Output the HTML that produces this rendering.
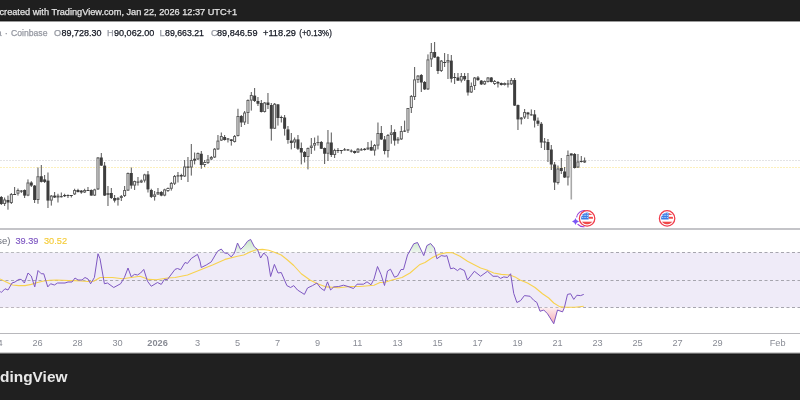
<!DOCTYPE html>
<html><head><meta charset="utf-8"><style>
html,body{margin:0;padding:0;background:#fff;width:800px;height:400px;overflow:hidden}
svg{display:block;filter:blur(0.3px)}
text{font-family:"Liberation Sans",sans-serif}
</style></head><body>
<svg width="800" height="400" viewBox="0 0 800 400">
<rect x="0" y="0" width="800" height="400" fill="#ffffff"/>
<!-- header -->
<rect x="0" y="0" width="800" height="21" fill="#1f1f1f"/>
<rect x="0" y="20" width="800" height="1" fill="#191919"/>
<rect x="0" y="21" width="800" height="1" fill="#9a9a9a"/>
<text x="-0.5" y="15" font-size="9.2" fill="#e4e4e4" stroke="#e4e4e4" stroke-width="0.25">created with TradingView.com, Jan 22, 2026 12:37 UTC+1</text>
<!-- ohlc row -->
<g font-size="9.2" stroke-width="0.25">
<text x="1.6" y="35.7" text-anchor="end" fill="#9598a1" stroke="#9598a1">Bitcoin / U.S. Dollar · 4 · Coinba</text><text x="6.3" y="35.7" text-anchor="middle" fill="#9598a1" stroke="#9598a1">·</text><text x="11" y="35.7" fill="#9598a1" stroke="#9598a1" textLength="36.5" lengthAdjust="spacingAndGlyphs">Coinbase</text>
<text x="54" y="35.7" fill="#9598a1" stroke="#9598a1">O</text><text x="61.5" y="35.7" fill="#131722" stroke="#131722" textLength="40" lengthAdjust="spacingAndGlyphs">89,728.30</text>
<text x="106.9" y="35.7" fill="#9598a1" stroke="#9598a1">H</text><text x="114" y="35.7" fill="#131722" stroke="#131722" textLength="40.3" lengthAdjust="spacingAndGlyphs">90,062.00</text>
<text x="159.4" y="35.7" fill="#9598a1" stroke="#9598a1">L</text><text x="165" y="35.7" fill="#131722" stroke="#131722" textLength="39" lengthAdjust="spacingAndGlyphs">89,663.21</text>
<text x="210.9" y="35.7" fill="#9598a1" stroke="#9598a1">C</text><text x="217" y="35.7" fill="#131722" stroke="#131722" textLength="40.5" lengthAdjust="spacingAndGlyphs">89,846.59</text>
<text x="263" y="35.7" fill="#131722" stroke="#131722" textLength="33" lengthAdjust="spacingAndGlyphs">+118.29</text><text x="299.3" y="35.7" fill="#131722" stroke="#131722" textLength="32.5" lengthAdjust="spacingAndGlyphs">(+0.13%)</text>
</g>
<!-- price lines -->
<line x1="0" y1="160.5" x2="800" y2="160.5" stroke="#e3e3e5" stroke-width="1" stroke-dasharray="2 1"/>
<line x1="0" y1="167.5" x2="800" y2="167.5" stroke="#fcf0bd" stroke-width="1" stroke-dasharray="2 1"/>
<line x1="1.3" y1="196" x2="1.3" y2="205" stroke="#555555" stroke-width="1"/>
<rect x="-0.2" y="197" width="3" height="7" fill="#3d3d3d"/>
<line x1="4.63" y1="197.5" x2="4.63" y2="206" stroke="#555555" stroke-width="1"/>
<rect x="3.63" y="200" width="2" height="3.5" fill="#ffffff" stroke="#5c5c5c" stroke-width="1"/>
<line x1="7.97" y1="195.6" x2="7.97" y2="209.7" stroke="#555555" stroke-width="1"/>
<rect x="6.47" y="200" width="3" height="2.5" fill="#3d3d3d"/>
<line x1="11.3" y1="193" x2="11.3" y2="204" stroke="#555555" stroke-width="1"/>
<rect x="10.3" y="194.5" width="2" height="8" fill="#ffffff" stroke="#5c5c5c" stroke-width="1"/>
<line x1="14.63" y1="187" x2="14.63" y2="195" stroke="#555555" stroke-width="1"/>
<rect x="13.13" y="194" width="3" height="1" fill="#3d3d3d"/>
<line x1="17.97" y1="188.5" x2="17.97" y2="195.6" stroke="#555555" stroke-width="1"/>
<rect x="16.97" y="190.5" width="2" height="2.7" fill="#ffffff" stroke="#5c5c5c" stroke-width="1"/>
<line x1="21.3" y1="190" x2="21.3" y2="193" stroke="#555555" stroke-width="1"/>
<rect x="19.8" y="190.6" width="3" height="1" fill="#3d3d3d"/>
<line x1="24.63" y1="189.4" x2="24.63" y2="198" stroke="#555555" stroke-width="1"/>
<rect x="23.13" y="190" width="3" height="5.6" fill="#3d3d3d"/>
<line x1="27.97" y1="179.4" x2="27.97" y2="196.2" stroke="#555555" stroke-width="1"/>
<rect x="26.97" y="183" width="2" height="12.1" fill="#ffffff" stroke="#5c5c5c" stroke-width="1"/>
<line x1="31.3" y1="181.2" x2="31.3" y2="187" stroke="#555555" stroke-width="1"/>
<rect x="29.8" y="182.5" width="3" height="3.1" fill="#3d3d3d"/>
<line x1="34.63" y1="185" x2="34.63" y2="203" stroke="#555555" stroke-width="1"/>
<rect x="33.13" y="185.6" width="3" height="14.4" fill="#3d3d3d"/>
<line x1="37.97" y1="167.5" x2="37.97" y2="203.75" stroke="#555555" stroke-width="1"/>
<rect x="36.97" y="176.75" width="2" height="22.75" fill="#ffffff" stroke="#5c5c5c" stroke-width="1"/>
<line x1="41.3" y1="165" x2="41.3" y2="182.5" stroke="#555555" stroke-width="1"/>
<rect x="39.8" y="176.25" width="3" height="5.65" fill="#3d3d3d"/>
<line x1="44.63" y1="175" x2="44.63" y2="183" stroke="#555555" stroke-width="1"/>
<rect x="43.13" y="179.4" width="3" height="2.5" fill="#3d3d3d"/>
<line x1="47.97" y1="172.5" x2="47.97" y2="208" stroke="#555555" stroke-width="1"/>
<rect x="46.47" y="180.6" width="3" height="20" fill="#3d3d3d"/>
<line x1="51.3" y1="195" x2="51.3" y2="205.6" stroke="#555555" stroke-width="1"/>
<rect x="50.3" y="196.1" width="2" height="4" fill="#ffffff" stroke="#5c5c5c" stroke-width="1"/>
<line x1="54.63" y1="192" x2="54.63" y2="198" stroke="#555555" stroke-width="1"/>
<rect x="53.13" y="195.6" width="3" height="1.9" fill="#3d3d3d"/>
<line x1="57.97" y1="193.75" x2="57.97" y2="202.5" stroke="#555555" stroke-width="1"/>
<rect x="56.97" y="196.1" width="2" height="0.9" fill="#ffffff" stroke="#5c5c5c" stroke-width="1"/>
<line x1="61.3" y1="192.5" x2="61.3" y2="197.5" stroke="#555555" stroke-width="1"/>
<rect x="59.8" y="196.2" width="3" height="1" fill="#3d3d3d"/>
<line x1="64.63" y1="193.75" x2="64.63" y2="197" stroke="#555555" stroke-width="1"/>
<rect x="63.13" y="195" width="3" height="1.25" fill="#3d3d3d"/>
<line x1="67.97" y1="194.4" x2="67.97" y2="198" stroke="#555555" stroke-width="1"/>
<rect x="66.47" y="195" width="3" height="1" fill="#3d3d3d"/>
<line x1="71.3" y1="195" x2="71.3" y2="197.5" stroke="#555555" stroke-width="1"/>
<rect x="69.8" y="195" width="3" height="1" fill="#3d3d3d"/>
<line x1="74.63" y1="188.75" x2="74.63" y2="195" stroke="#555555" stroke-width="1"/>
<rect x="73.63" y="190.5" width="2" height="3.4" fill="#ffffff" stroke="#5c5c5c" stroke-width="1"/>
<line x1="77.97" y1="188.75" x2="77.97" y2="192.5" stroke="#555555" stroke-width="1"/>
<rect x="76.47" y="190" width="3" height="2" fill="#3d3d3d"/>
<line x1="81.3" y1="190" x2="81.3" y2="193.75" stroke="#555555" stroke-width="1"/>
<rect x="79.8" y="190.6" width="3" height="1.9" fill="#3d3d3d"/>
<line x1="84.63" y1="188.75" x2="84.63" y2="193" stroke="#555555" stroke-width="1"/>
<rect x="83.63" y="190.5" width="2" height="1.5" fill="#ffffff" stroke="#5c5c5c" stroke-width="1"/>
<line x1="87.97" y1="187" x2="87.97" y2="191" stroke="#555555" stroke-width="1"/>
<rect x="86.47" y="190" width="3" height="1" fill="#3d3d3d"/>
<line x1="91.3" y1="189.4" x2="91.3" y2="195.6" stroke="#555555" stroke-width="1"/>
<rect x="89.8" y="190" width="3" height="5.6" fill="#3d3d3d"/>
<line x1="94.63" y1="188.75" x2="94.63" y2="196" stroke="#555555" stroke-width="1"/>
<rect x="93.63" y="189.9" width="2" height="5.2" fill="#ffffff" stroke="#5c5c5c" stroke-width="1"/>
<line x1="97.97" y1="157" x2="97.97" y2="190" stroke="#555555" stroke-width="1"/>
<rect x="96.97" y="158" width="2" height="30.9" fill="#ffffff" stroke="#5c5c5c" stroke-width="1"/>
<line x1="101.3" y1="153" x2="101.3" y2="166" stroke="#555555" stroke-width="1"/>
<rect x="99.8" y="157.5" width="3" height="8.1" fill="#3d3d3d"/>
<line x1="104.63" y1="162" x2="104.63" y2="196" stroke="#555555" stroke-width="1"/>
<rect x="103.13" y="165.6" width="3" height="30" fill="#3d3d3d"/>
<line x1="107.97" y1="186" x2="107.97" y2="206" stroke="#555555" stroke-width="1"/>
<rect x="106.97" y="193.5" width="2" height="1" fill="#ffffff" stroke="#5c5c5c" stroke-width="1"/>
<line x1="111.3" y1="188" x2="111.3" y2="199" stroke="#555555" stroke-width="1"/>
<rect x="109.8" y="193" width="3" height="5" fill="#3d3d3d"/>
<line x1="114.63" y1="195" x2="114.63" y2="202.5" stroke="#555555" stroke-width="1"/>
<rect x="113.13" y="198" width="3" height="2.6" fill="#3d3d3d"/>
<line x1="117.97" y1="197" x2="117.97" y2="205.6" stroke="#555555" stroke-width="1"/>
<rect x="116.97" y="198.5" width="2" height="1" fill="#ffffff" stroke="#5c5c5c" stroke-width="1"/>
<line x1="121.3" y1="195" x2="121.3" y2="201" stroke="#555555" stroke-width="1"/>
<rect x="120.3" y="196.5" width="2" height="1" fill="#ffffff" stroke="#5c5c5c" stroke-width="1"/>
<line x1="124.63" y1="186" x2="124.63" y2="197" stroke="#555555" stroke-width="1"/>
<rect x="123.63" y="190.5" width="2" height="5" fill="#ffffff" stroke="#5c5c5c" stroke-width="1"/>
<line x1="127.97" y1="172.5" x2="127.97" y2="191" stroke="#555555" stroke-width="1"/>
<rect x="126.97" y="173.5" width="2" height="16.6" fill="#ffffff" stroke="#5c5c5c" stroke-width="1"/>
<line x1="131.3" y1="167.5" x2="131.3" y2="188.75" stroke="#555555" stroke-width="1"/>
<rect x="129.8" y="173" width="3" height="12.6" fill="#3d3d3d"/>
<line x1="134.63" y1="180.6" x2="134.63" y2="190" stroke="#555555" stroke-width="1"/>
<rect x="133.63" y="181.5" width="2" height="3.6" fill="#ffffff" stroke="#5c5c5c" stroke-width="1"/>
<line x1="137.97" y1="177" x2="137.97" y2="185.6" stroke="#555555" stroke-width="1"/>
<rect x="136.47" y="181.6" width="3" height="1" fill="#3d3d3d"/>
<line x1="141.3" y1="179.5" x2="141.3" y2="183" stroke="#555555" stroke-width="1"/>
<rect x="140.3" y="180.9" width="2" height="1.1" fill="#ffffff" stroke="#5c5c5c" stroke-width="1"/>
<line x1="144.63" y1="173.75" x2="144.63" y2="182.5" stroke="#555555" stroke-width="1"/>
<rect x="143.63" y="174.9" width="2" height="5.2" fill="#ffffff" stroke="#5c5c5c" stroke-width="1"/>
<line x1="147.97" y1="171" x2="147.97" y2="192.5" stroke="#555555" stroke-width="1"/>
<rect x="146.47" y="174.4" width="3" height="15" fill="#3d3d3d"/>
<line x1="151.3" y1="188.75" x2="151.3" y2="198" stroke="#555555" stroke-width="1"/>
<rect x="149.8" y="190" width="3" height="6.9" fill="#3d3d3d"/>
<line x1="154.63" y1="191" x2="154.63" y2="200.6" stroke="#555555" stroke-width="1"/>
<rect x="153.63" y="194.9" width="2" height="1.5" fill="#ffffff" stroke="#5c5c5c" stroke-width="1"/>
<line x1="157.97" y1="188" x2="157.97" y2="195" stroke="#555555" stroke-width="1"/>
<rect x="156.97" y="192.5" width="2" height="1.4" fill="#ffffff" stroke="#5c5c5c" stroke-width="1"/>
<line x1="161.3" y1="191" x2="161.3" y2="196.25" stroke="#555555" stroke-width="1"/>
<rect x="159.8" y="192" width="3" height="3.6" fill="#3d3d3d"/>
<line x1="164.63" y1="188.75" x2="164.63" y2="196.25" stroke="#555555" stroke-width="1"/>
<rect x="163.63" y="189.9" width="2" height="5.2" fill="#ffffff" stroke="#5c5c5c" stroke-width="1"/>
<line x1="167.97" y1="187.5" x2="167.97" y2="192" stroke="#555555" stroke-width="1"/>
<rect x="166.97" y="188.5" width="2" height="2" fill="#ffffff" stroke="#5c5c5c" stroke-width="1"/>
<line x1="171.3" y1="182" x2="171.3" y2="190.6" stroke="#555555" stroke-width="1"/>
<rect x="170.3" y="183.5" width="2" height="4.75" fill="#ffffff" stroke="#5c5c5c" stroke-width="1"/>
<line x1="174.63" y1="175" x2="174.63" y2="185" stroke="#555555" stroke-width="1"/>
<rect x="173.63" y="176.5" width="2" height="6.75" fill="#ffffff" stroke="#5c5c5c" stroke-width="1"/>
<line x1="177.96" y1="172" x2="177.96" y2="182.5" stroke="#555555" stroke-width="1"/>
<rect x="176.46" y="175.4" width="3" height="1" fill="#3d3d3d"/>
<line x1="181.3" y1="173.75" x2="181.3" y2="180" stroke="#555555" stroke-width="1"/>
<rect x="179.8" y="175" width="3" height="1.5" fill="#3d3d3d"/>
<line x1="184.63" y1="160" x2="184.63" y2="177" stroke="#555555" stroke-width="1"/>
<rect x="183.63" y="167" width="2" height="9" fill="#ffffff" stroke="#5c5c5c" stroke-width="1"/>
<line x1="187.96" y1="157" x2="187.96" y2="182" stroke="#555555" stroke-width="1"/>
<rect x="186.46" y="166.5" width="3" height="1.25" fill="#3d3d3d"/>
<line x1="191.3" y1="144" x2="191.3" y2="175.6" stroke="#555555" stroke-width="1"/>
<rect x="190.3" y="160.5" width="2" height="6.5" fill="#ffffff" stroke="#5c5c5c" stroke-width="1"/>
<line x1="194.63" y1="152.5" x2="194.63" y2="164.4" stroke="#555555" stroke-width="1"/>
<rect x="193.13" y="158.75" width="3" height="1.85" fill="#3d3d3d"/>
<line x1="197.96" y1="152.5" x2="197.96" y2="160" stroke="#555555" stroke-width="1"/>
<rect x="196.96" y="153.5" width="2" height="5.4" fill="#ffffff" stroke="#5c5c5c" stroke-width="1"/>
<line x1="201.3" y1="151" x2="201.3" y2="168.75" stroke="#555555" stroke-width="1"/>
<rect x="199.8" y="153.75" width="3" height="11.25" fill="#3d3d3d"/>
<line x1="204.63" y1="160" x2="204.63" y2="167" stroke="#555555" stroke-width="1"/>
<rect x="203.63" y="162.5" width="2" height="2" fill="#ffffff" stroke="#5c5c5c" stroke-width="1"/>
<line x1="207.96" y1="155" x2="207.96" y2="164" stroke="#555555" stroke-width="1"/>
<rect x="206.96" y="159.9" width="2" height="2.6" fill="#ffffff" stroke="#5c5c5c" stroke-width="1"/>
<line x1="211.3" y1="156" x2="211.3" y2="160" stroke="#555555" stroke-width="1"/>
<rect x="210.3" y="157.5" width="2" height="1.4" fill="#ffffff" stroke="#5c5c5c" stroke-width="1"/>
<line x1="214.63" y1="148" x2="214.63" y2="158" stroke="#555555" stroke-width="1"/>
<rect x="213.63" y="149.25" width="2" height="7.75" fill="#ffffff" stroke="#5c5c5c" stroke-width="1"/>
<line x1="217.96" y1="135" x2="217.96" y2="150" stroke="#555555" stroke-width="1"/>
<rect x="216.96" y="141.1" width="2" height="7.8" fill="#ffffff" stroke="#5c5c5c" stroke-width="1"/>
<line x1="221.3" y1="132.5" x2="221.3" y2="141" stroke="#555555" stroke-width="1"/>
<rect x="220.3" y="136.5" width="2" height="3.6" fill="#ffffff" stroke="#5c5c5c" stroke-width="1"/>
<line x1="224.63" y1="135" x2="224.63" y2="140.6" stroke="#555555" stroke-width="1"/>
<rect x="223.13" y="137" width="3" height="3" fill="#3d3d3d"/>
<line x1="227.96" y1="138" x2="227.96" y2="142.5" stroke="#555555" stroke-width="1"/>
<rect x="226.46" y="138.5" width="3" height="1" fill="#3d3d3d"/>
<line x1="231.3" y1="139" x2="231.3" y2="145.6" stroke="#555555" stroke-width="1"/>
<rect x="229.8" y="139.4" width="3" height="1.6" fill="#3d3d3d"/>
<line x1="234.63" y1="135" x2="234.63" y2="142.5" stroke="#555555" stroke-width="1"/>
<rect x="233.63" y="136.5" width="2" height="5" fill="#ffffff" stroke="#5c5c5c" stroke-width="1"/>
<line x1="237.96" y1="108.75" x2="237.96" y2="136.5" stroke="#555555" stroke-width="1"/>
<rect x="236.96" y="116.5" width="2" height="19" fill="#ffffff" stroke="#5c5c5c" stroke-width="1"/>
<line x1="241.3" y1="115" x2="241.3" y2="127" stroke="#555555" stroke-width="1"/>
<rect x="239.8" y="116" width="3" height="6.5" fill="#3d3d3d"/>
<line x1="244.63" y1="111" x2="244.63" y2="125" stroke="#555555" stroke-width="1"/>
<rect x="243.63" y="113" width="2" height="9" fill="#ffffff" stroke="#5c5c5c" stroke-width="1"/>
<line x1="247.96" y1="99.4" x2="247.96" y2="124" stroke="#555555" stroke-width="1"/>
<rect x="246.96" y="100.5" width="2" height="12" fill="#ffffff" stroke="#5c5c5c" stroke-width="1"/>
<line x1="251.3" y1="92" x2="251.3" y2="110.6" stroke="#555555" stroke-width="1"/>
<rect x="250.3" y="95.5" width="2" height="4.6" fill="#ffffff" stroke="#5c5c5c" stroke-width="1"/>
<line x1="254.63" y1="88" x2="254.63" y2="102" stroke="#555555" stroke-width="1"/>
<rect x="253.13" y="95.6" width="3" height="5.4" fill="#3d3d3d"/>
<line x1="257.96" y1="97" x2="257.96" y2="106" stroke="#555555" stroke-width="1"/>
<rect x="256.46" y="101" width="3" height="2.75" fill="#3d3d3d"/>
<line x1="261.3" y1="100" x2="261.3" y2="112.5" stroke="#555555" stroke-width="1"/>
<rect x="259.8" y="103" width="3" height="9" fill="#3d3d3d"/>
<line x1="264.63" y1="102" x2="264.63" y2="112.5" stroke="#555555" stroke-width="1"/>
<rect x="263.63" y="103" width="2" height="8.5" fill="#ffffff" stroke="#5c5c5c" stroke-width="1"/>
<line x1="267.96" y1="93" x2="267.96" y2="109" stroke="#555555" stroke-width="1"/>
<rect x="266.46" y="102.5" width="3" height="2.5" fill="#3d3d3d"/>
<line x1="271.3" y1="103" x2="271.3" y2="140.6" stroke="#555555" stroke-width="1"/>
<rect x="269.8" y="105" width="3" height="23.75" fill="#3d3d3d"/>
<line x1="274.63" y1="103" x2="274.63" y2="129" stroke="#555555" stroke-width="1"/>
<rect x="273.63" y="104.25" width="2" height="24" fill="#ffffff" stroke="#5c5c5c" stroke-width="1"/>
<line x1="277.96" y1="104" x2="277.96" y2="125.6" stroke="#555555" stroke-width="1"/>
<rect x="276.46" y="104.4" width="3" height="13.6" fill="#3d3d3d"/>
<line x1="281.3" y1="115.6" x2="281.3" y2="122.5" stroke="#555555" stroke-width="1"/>
<rect x="279.8" y="117" width="3" height="1" fill="#3d3d3d"/>
<line x1="284.63" y1="115" x2="284.63" y2="135.6" stroke="#555555" stroke-width="1"/>
<rect x="283.13" y="117.5" width="3" height="11.25" fill="#3d3d3d"/>
<line x1="287.96" y1="126" x2="287.96" y2="143.75" stroke="#555555" stroke-width="1"/>
<rect x="286.46" y="129.4" width="3" height="10.6" fill="#3d3d3d"/>
<line x1="291.3" y1="133" x2="291.3" y2="149.4" stroke="#555555" stroke-width="1"/>
<rect x="289.8" y="140.6" width="3" height="2.4" fill="#3d3d3d"/>
<line x1="294.63" y1="137.5" x2="294.63" y2="148" stroke="#555555" stroke-width="1"/>
<rect x="293.63" y="139.9" width="2" height="2.1" fill="#ffffff" stroke="#5c5c5c" stroke-width="1"/>
<line x1="297.96" y1="135" x2="297.96" y2="150" stroke="#555555" stroke-width="1"/>
<rect x="296.46" y="139.4" width="3" height="9.35" fill="#3d3d3d"/>
<line x1="301.3" y1="142.5" x2="301.3" y2="164.4" stroke="#555555" stroke-width="1"/>
<rect x="299.8" y="148" width="3" height="4.5" fill="#3d3d3d"/>
<line x1="304.63" y1="151" x2="304.63" y2="162.5" stroke="#555555" stroke-width="1"/>
<rect x="303.13" y="152" width="3" height="5" fill="#3d3d3d"/>
<line x1="307.96" y1="147.5" x2="307.96" y2="169.4" stroke="#555555" stroke-width="1"/>
<rect x="306.96" y="148.5" width="2" height="8" fill="#ffffff" stroke="#5c5c5c" stroke-width="1"/>
<line x1="311.3" y1="138" x2="311.3" y2="154" stroke="#555555" stroke-width="1"/>
<rect x="310.3" y="146.1" width="2" height="1.4" fill="#ffffff" stroke="#5c5c5c" stroke-width="1"/>
<line x1="314.63" y1="137.5" x2="314.63" y2="150.6" stroke="#555555" stroke-width="1"/>
<rect x="313.63" y="143.5" width="2" height="1.6" fill="#ffffff" stroke="#5c5c5c" stroke-width="1"/>
<line x1="317.96" y1="135.6" x2="317.96" y2="145.6" stroke="#555555" stroke-width="1"/>
<rect x="316.96" y="142.5" width="2" height="0.01" fill="#ffffff" stroke="#5c5c5c" stroke-width="1"/>
<line x1="321.3" y1="141" x2="321.3" y2="149" stroke="#555555" stroke-width="1"/>
<rect x="319.8" y="142" width="3" height="6.75" fill="#3d3d3d"/>
<line x1="324.63" y1="147.5" x2="324.63" y2="164" stroke="#555555" stroke-width="1"/>
<rect x="323.13" y="148" width="3" height="5.75" fill="#3d3d3d"/>
<line x1="327.96" y1="130" x2="327.96" y2="161" stroke="#555555" stroke-width="1"/>
<rect x="326.96" y="143" width="2" height="10.25" fill="#ffffff" stroke="#5c5c5c" stroke-width="1"/>
<line x1="331.3" y1="132.5" x2="331.3" y2="157" stroke="#555555" stroke-width="1"/>
<rect x="329.8" y="142.5" width="3" height="12.5" fill="#3d3d3d"/>
<line x1="334.63" y1="148.75" x2="334.63" y2="158" stroke="#555555" stroke-width="1"/>
<rect x="333.63" y="150.5" width="2" height="4" fill="#ffffff" stroke="#5c5c5c" stroke-width="1"/>
<line x1="337.96" y1="148" x2="337.96" y2="153" stroke="#555555" stroke-width="1"/>
<rect x="336.46" y="150" width="3" height="1" fill="#3d3d3d"/>
<line x1="341.3" y1="150" x2="341.3" y2="153.75" stroke="#555555" stroke-width="1"/>
<rect x="339.8" y="150" width="3" height="1" fill="#3d3d3d"/>
<line x1="344.63" y1="148" x2="344.63" y2="150.6" stroke="#555555" stroke-width="1"/>
<rect x="343.13" y="149.4" width="3" height="1" fill="#3d3d3d"/>
<line x1="347.96" y1="149" x2="347.96" y2="151" stroke="#555555" stroke-width="1"/>
<rect x="346.46" y="149.4" width="3" height="1" fill="#3d3d3d"/>
<line x1="351.3" y1="149.4" x2="351.3" y2="152.5" stroke="#555555" stroke-width="1"/>
<rect x="349.8" y="150.6" width="3" height="1" fill="#3d3d3d"/>
<line x1="354.63" y1="150.6" x2="354.63" y2="153.75" stroke="#555555" stroke-width="1"/>
<rect x="353.13" y="151" width="3" height="2" fill="#3d3d3d"/>
<line x1="357.96" y1="148" x2="357.96" y2="153" stroke="#555555" stroke-width="1"/>
<rect x="356.96" y="149.25" width="2" height="2.75" fill="#ffffff" stroke="#5c5c5c" stroke-width="1"/>
<line x1="361.3" y1="148" x2="361.3" y2="150.6" stroke="#555555" stroke-width="1"/>
<rect x="359.8" y="149.4" width="3" height="1" fill="#3d3d3d"/>
<line x1="364.63" y1="148" x2="364.63" y2="150.6" stroke="#555555" stroke-width="1"/>
<rect x="363.13" y="148.75" width="3" height="1.25" fill="#3d3d3d"/>
<line x1="367.96" y1="142" x2="367.96" y2="150" stroke="#555555" stroke-width="1"/>
<rect x="366.96" y="148" width="2" height="0.9" fill="#ffffff" stroke="#5c5c5c" stroke-width="1"/>
<line x1="371.3" y1="140.6" x2="371.3" y2="150.6" stroke="#555555" stroke-width="1"/>
<rect x="369.8" y="147" width="3" height="3.6" fill="#3d3d3d"/>
<line x1="374.63" y1="144" x2="374.63" y2="155.6" stroke="#555555" stroke-width="1"/>
<rect x="373.63" y="145.5" width="2" height="4.6" fill="#ffffff" stroke="#5c5c5c" stroke-width="1"/>
<line x1="377.96" y1="122.5" x2="377.96" y2="149.4" stroke="#555555" stroke-width="1"/>
<rect x="376.96" y="133.5" width="2" height="11.6" fill="#ffffff" stroke="#5c5c5c" stroke-width="1"/>
<line x1="381.3" y1="126" x2="381.3" y2="140" stroke="#555555" stroke-width="1"/>
<rect x="379.8" y="133" width="3" height="6.4" fill="#3d3d3d"/>
<line x1="384.63" y1="136" x2="384.63" y2="154.4" stroke="#555555" stroke-width="1"/>
<rect x="383.13" y="139.4" width="3" height="11.6" fill="#3d3d3d"/>
<line x1="387.96" y1="134" x2="387.96" y2="157.5" stroke="#555555" stroke-width="1"/>
<rect x="386.96" y="135.5" width="2" height="15" fill="#ffffff" stroke="#5c5c5c" stroke-width="1"/>
<line x1="391.3" y1="125" x2="391.3" y2="143.75" stroke="#555555" stroke-width="1"/>
<rect x="390.3" y="133" width="2" height="1.5" fill="#ffffff" stroke="#5c5c5c" stroke-width="1"/>
<line x1="394.63" y1="129.4" x2="394.63" y2="145.6" stroke="#555555" stroke-width="1"/>
<rect x="393.13" y="132" width="3" height="8.6" fill="#3d3d3d"/>
<line x1="397.96" y1="137" x2="397.96" y2="143.75" stroke="#555555" stroke-width="1"/>
<rect x="396.96" y="139.25" width="2" height="0.85" fill="#ffffff" stroke="#5c5c5c" stroke-width="1"/>
<line x1="401.3" y1="126" x2="401.3" y2="140" stroke="#555555" stroke-width="1"/>
<rect x="400.3" y="131.5" width="2" height="7.4" fill="#ffffff" stroke="#5c5c5c" stroke-width="1"/>
<line x1="404.63" y1="120.6" x2="404.63" y2="132" stroke="#555555" stroke-width="1"/>
<rect x="403.13" y="130.6" width="3" height="1" fill="#3d3d3d"/>
<line x1="407.96" y1="108" x2="407.96" y2="133" stroke="#555555" stroke-width="1"/>
<rect x="406.96" y="108.5" width="2" height="21.6" fill="#ffffff" stroke="#5c5c5c" stroke-width="1"/>
<line x1="411.3" y1="95" x2="411.3" y2="113" stroke="#555555" stroke-width="1"/>
<rect x="410.3" y="96.5" width="2" height="11" fill="#ffffff" stroke="#5c5c5c" stroke-width="1"/>
<line x1="414.63" y1="67" x2="414.63" y2="100" stroke="#555555" stroke-width="1"/>
<rect x="413.63" y="79.9" width="2" height="16.6" fill="#ffffff" stroke="#5c5c5c" stroke-width="1"/>
<line x1="417.96" y1="75" x2="417.96" y2="83" stroke="#555555" stroke-width="1"/>
<rect x="416.96" y="76.1" width="2" height="3.4" fill="#ffffff" stroke="#5c5c5c" stroke-width="1"/>
<line x1="421.3" y1="74" x2="421.3" y2="92" stroke="#555555" stroke-width="1"/>
<rect x="419.8" y="75" width="3" height="7.5" fill="#3d3d3d"/>
<line x1="424.63" y1="81" x2="424.63" y2="90" stroke="#555555" stroke-width="1"/>
<rect x="423.13" y="82" width="3" height="7.4" fill="#3d3d3d"/>
<line x1="427.96" y1="54.4" x2="427.96" y2="90" stroke="#555555" stroke-width="1"/>
<rect x="426.96" y="59.9" width="2" height="29" fill="#ffffff" stroke="#5c5c5c" stroke-width="1"/>
<line x1="431.3" y1="43" x2="431.3" y2="67" stroke="#555555" stroke-width="1"/>
<rect x="430.3" y="52.5" width="2" height="6.4" fill="#ffffff" stroke="#5c5c5c" stroke-width="1"/>
<line x1="434.63" y1="42" x2="434.63" y2="58" stroke="#555555" stroke-width="1"/>
<rect x="433.13" y="52" width="3" height="5.5" fill="#3d3d3d"/>
<line x1="437.96" y1="56" x2="437.96" y2="74" stroke="#555555" stroke-width="1"/>
<rect x="436.46" y="57" width="3" height="14" fill="#3d3d3d"/>
<line x1="441.3" y1="60" x2="441.3" y2="72" stroke="#555555" stroke-width="1"/>
<rect x="440.3" y="61.1" width="2" height="9.4" fill="#ffffff" stroke="#5c5c5c" stroke-width="1"/>
<line x1="444.63" y1="53" x2="444.63" y2="67" stroke="#555555" stroke-width="1"/>
<rect x="443.13" y="62" width="3" height="1" fill="#3d3d3d"/>
<line x1="447.96" y1="54" x2="447.96" y2="79" stroke="#555555" stroke-width="1"/>
<rect x="446.96" y="60.5" width="2" height="1.5" fill="#ffffff" stroke="#5c5c5c" stroke-width="1"/>
<line x1="451.3" y1="55" x2="451.3" y2="82.5" stroke="#555555" stroke-width="1"/>
<rect x="449.8" y="60.6" width="3" height="18.15" fill="#3d3d3d"/>
<line x1="454.63" y1="73" x2="454.63" y2="84" stroke="#555555" stroke-width="1"/>
<rect x="453.13" y="77" width="3" height="1" fill="#3d3d3d"/>
<line x1="457.96" y1="73" x2="457.96" y2="81" stroke="#555555" stroke-width="1"/>
<rect x="456.46" y="77.5" width="3" height="3.1" fill="#3d3d3d"/>
<line x1="461.3" y1="73" x2="461.3" y2="82.5" stroke="#555555" stroke-width="1"/>
<rect x="460.3" y="76.5" width="2" height="3.6" fill="#ffffff" stroke="#5c5c5c" stroke-width="1"/>
<line x1="464.63" y1="73" x2="464.63" y2="81" stroke="#555555" stroke-width="1"/>
<rect x="463.13" y="76" width="3" height="3.4" fill="#3d3d3d"/>
<line x1="467.96" y1="73" x2="467.96" y2="95.6" stroke="#555555" stroke-width="1"/>
<rect x="466.46" y="80" width="3" height="12.5" fill="#3d3d3d"/>
<line x1="471.3" y1="82.5" x2="471.3" y2="93" stroke="#555555" stroke-width="1"/>
<rect x="470.3" y="86.5" width="2" height="5.5" fill="#ffffff" stroke="#5c5c5c" stroke-width="1"/>
<line x1="474.63" y1="77" x2="474.63" y2="90" stroke="#555555" stroke-width="1"/>
<rect x="473.63" y="78" width="2" height="7.5" fill="#ffffff" stroke="#5c5c5c" stroke-width="1"/>
<line x1="477.96" y1="76" x2="477.96" y2="81" stroke="#555555" stroke-width="1"/>
<rect x="476.46" y="77.5" width="3" height="2.5" fill="#3d3d3d"/>
<line x1="481.3" y1="80" x2="481.3" y2="85" stroke="#555555" stroke-width="1"/>
<rect x="479.8" y="80.6" width="3" height="3.8" fill="#3d3d3d"/>
<line x1="484.63" y1="80.5" x2="484.63" y2="85" stroke="#555555" stroke-width="1"/>
<rect x="483.63" y="81.5" width="2" height="2.4" fill="#ffffff" stroke="#5c5c5c" stroke-width="1"/>
<line x1="487.96" y1="77" x2="487.96" y2="82.5" stroke="#555555" stroke-width="1"/>
<rect x="486.96" y="78" width="2" height="3.5" fill="#ffffff" stroke="#5c5c5c" stroke-width="1"/>
<line x1="491.3" y1="77" x2="491.3" y2="82.5" stroke="#555555" stroke-width="1"/>
<rect x="489.8" y="77.5" width="3" height="4.5" fill="#3d3d3d"/>
<line x1="494.63" y1="80" x2="494.63" y2="85" stroke="#555555" stroke-width="1"/>
<rect x="493.63" y="81.5" width="2" height="2" fill="#ffffff" stroke="#5c5c5c" stroke-width="1"/>
<line x1="497.96" y1="81" x2="497.96" y2="87.5" stroke="#555555" stroke-width="1"/>
<rect x="496.46" y="82" width="3" height="1.5" fill="#3d3d3d"/>
<line x1="501.3" y1="82.5" x2="501.3" y2="85.5" stroke="#555555" stroke-width="1"/>
<rect x="499.8" y="83" width="3" height="2" fill="#3d3d3d"/>
<line x1="504.63" y1="82.5" x2="504.63" y2="85.5" stroke="#555555" stroke-width="1"/>
<rect x="503.63" y="83.5" width="2" height="1" fill="#ffffff" stroke="#5c5c5c" stroke-width="1"/>
<line x1="507.96" y1="80" x2="507.96" y2="87.5" stroke="#555555" stroke-width="1"/>
<rect x="506.46" y="83.5" width="3" height="1" fill="#3d3d3d"/>
<line x1="511.29" y1="78" x2="511.29" y2="85" stroke="#555555" stroke-width="1"/>
<rect x="510.29" y="80.5" width="2" height="3.4" fill="#ffffff" stroke="#5c5c5c" stroke-width="1"/>
<line x1="514.63" y1="78" x2="514.63" y2="106" stroke="#555555" stroke-width="1"/>
<rect x="513.13" y="80" width="3" height="25.6" fill="#3d3d3d"/>
<line x1="517.96" y1="104.5" x2="517.96" y2="130" stroke="#555555" stroke-width="1"/>
<rect x="516.46" y="105" width="3" height="14.4" fill="#3d3d3d"/>
<line x1="521.29" y1="117" x2="521.29" y2="124.4" stroke="#555555" stroke-width="1"/>
<rect x="520.29" y="118" width="2" height="0.9" fill="#ffffff" stroke="#5c5c5c" stroke-width="1"/>
<line x1="524.63" y1="109" x2="524.63" y2="119" stroke="#555555" stroke-width="1"/>
<rect x="523.63" y="112.5" width="2" height="4.5" fill="#ffffff" stroke="#5c5c5c" stroke-width="1"/>
<line x1="527.96" y1="111.9" x2="527.96" y2="119" stroke="#555555" stroke-width="1"/>
<rect x="526.46" y="112.5" width="3" height="1.9" fill="#3d3d3d"/>
<line x1="531.29" y1="109.4" x2="531.29" y2="115.6" stroke="#555555" stroke-width="1"/>
<rect x="529.79" y="114.4" width="3" height="1" fill="#3d3d3d"/>
<line x1="534.63" y1="110" x2="534.63" y2="127.5" stroke="#555555" stroke-width="1"/>
<rect x="533.13" y="114.4" width="3" height="6.2" fill="#3d3d3d"/>
<line x1="537.96" y1="117.5" x2="537.96" y2="126" stroke="#555555" stroke-width="1"/>
<rect x="536.46" y="120.6" width="3" height="3.15" fill="#3d3d3d"/>
<line x1="541.29" y1="122" x2="541.29" y2="148" stroke="#555555" stroke-width="1"/>
<rect x="539.79" y="123.75" width="3" height="18.75" fill="#3d3d3d"/>
<line x1="544.63" y1="138" x2="544.63" y2="150" stroke="#555555" stroke-width="1"/>
<rect x="543.13" y="141.5" width="3" height="1" fill="#3d3d3d"/>
<line x1="547.96" y1="139" x2="547.96" y2="162" stroke="#555555" stroke-width="1"/>
<rect x="546.46" y="142" width="3" height="8" fill="#3d3d3d"/>
<line x1="551.29" y1="145" x2="551.29" y2="170" stroke="#555555" stroke-width="1"/>
<rect x="549.79" y="149.5" width="3" height="15" fill="#3d3d3d"/>
<line x1="554.63" y1="162" x2="554.63" y2="190" stroke="#555555" stroke-width="1"/>
<rect x="553.13" y="164.5" width="3" height="18" fill="#3d3d3d"/>
<line x1="557.96" y1="165.5" x2="557.96" y2="184.5" stroke="#555555" stroke-width="1"/>
<rect x="556.96" y="169" width="2" height="13.5" fill="#ffffff" stroke="#5c5c5c" stroke-width="1"/>
<line x1="561.29" y1="158" x2="561.29" y2="174" stroke="#555555" stroke-width="1"/>
<rect x="559.79" y="168" width="3" height="3" fill="#3d3d3d"/>
<line x1="564.63" y1="167" x2="564.63" y2="178" stroke="#555555" stroke-width="1"/>
<rect x="563.13" y="171.5" width="3" height="6" fill="#3d3d3d"/>
<line x1="567.96" y1="150.5" x2="567.96" y2="185.5" stroke="#555555" stroke-width="1"/>
<rect x="566.96" y="155.5" width="2" height="21.5" fill="#ffffff" stroke="#5c5c5c" stroke-width="1"/>
<line x1="571.29" y1="153" x2="571.29" y2="199.5" stroke="#a8a8a8" stroke-width="1.6"/>
<rect x="569.79" y="153.5" width="3" height="2" fill="#3d3d3d"/>
<line x1="574.63" y1="153" x2="574.63" y2="168.5" stroke="#555555" stroke-width="1"/>
<rect x="573.13" y="154" width="3" height="14" fill="#3d3d3d"/>
<line x1="577.96" y1="154" x2="577.96" y2="168" stroke="#555555" stroke-width="1"/>
<rect x="576.96" y="162" width="2" height="5" fill="#ffffff" stroke="#5c5c5c" stroke-width="1"/>
<line x1="581.29" y1="156" x2="581.29" y2="162.5" stroke="#555555" stroke-width="1"/>
<rect x="579.79" y="161" width="3" height="1" fill="#3d3d3d"/>
<line x1="584.63" y1="157.5" x2="584.63" y2="163" stroke="#555555" stroke-width="1"/>
<rect x="583.63" y="161" width="2" height="1" fill="#ffffff" stroke="#5c5c5c" stroke-width="1"/>
<!-- events -->
<path d="M585.5 210.6 A 8 8 0 0 0 576.6 217.3" fill="none" stroke="#9a3fd6" stroke-width="1.1"/>
<path d="M577.6 224.2 A 8 8 0 0 0 584.5 226.7" fill="none" stroke="#9a3fd6" stroke-width="1.1"/>
<path d="M575.5 217.9 Q576.1 220.9 579 221.4 Q576.1 221.9 575.5 224.9 Q574.9 221.9 572 221.4 Q574.9 220.9 575.5 217.9 Z" fill="#7b55f5"/>
<g>
<circle cx="587.1" cy="218.4" r="7.7" fill="#ffffff" stroke="#f03c4c" stroke-width="1.3"/>
<clipPath id="fc587"><circle cx="587.1" cy="218.4" r="6.0"/></clipPath>
<g clip-path="url(#fc587)">
<rect x="580.6" y="211.9" width="13" height="13" fill="#ffffff"/>
<rect x="588.6" y="213.20000000000002" width="5" height="1.7" fill="#f04848"/>
<rect x="588.6" y="216.8" width="5" height="1.9" fill="#f04848"/>
<rect x="580.6" y="221.70000000000002" width="13" height="3.0" fill="#f04848"/>
<rect x="580.6" y="211.9" width="8" height="7.6" fill="#3b7de6"/>
<circle cx="582.40" cy="213.80" r="0.5" fill="#d8e6fb"/><circle cx="584.10" cy="213.80" r="0.5" fill="#d8e6fb"/><circle cx="585.80" cy="213.80" r="0.5" fill="#d8e6fb"/><circle cx="587.50" cy="213.80" r="0.5" fill="#d8e6fb"/><circle cx="582.40" cy="215.60" r="0.5" fill="#d8e6fb"/><circle cx="584.10" cy="215.60" r="0.5" fill="#d8e6fb"/><circle cx="585.80" cy="215.60" r="0.5" fill="#d8e6fb"/><circle cx="587.50" cy="215.60" r="0.5" fill="#d8e6fb"/><circle cx="582.40" cy="217.40" r="0.5" fill="#d8e6fb"/><circle cx="584.10" cy="217.40" r="0.5" fill="#d8e6fb"/><circle cx="585.80" cy="217.40" r="0.5" fill="#d8e6fb"/><circle cx="587.50" cy="217.40" r="0.5" fill="#d8e6fb"/>
</g>
</g>
<g>
<circle cx="667.1" cy="218.4" r="7.7" fill="#ffffff" stroke="#f03c4c" stroke-width="1.3"/>
<clipPath id="fc667"><circle cx="667.1" cy="218.4" r="6.0"/></clipPath>
<g clip-path="url(#fc667)">
<rect x="660.6" y="211.9" width="13" height="13" fill="#ffffff"/>
<rect x="668.6" y="213.20000000000002" width="5" height="1.7" fill="#f04848"/>
<rect x="668.6" y="216.8" width="5" height="1.9" fill="#f04848"/>
<rect x="660.6" y="221.70000000000002" width="13" height="3.0" fill="#f04848"/>
<rect x="660.6" y="211.9" width="8" height="7.6" fill="#3b7de6"/>
<circle cx="662.40" cy="213.80" r="0.5" fill="#d8e6fb"/><circle cx="664.10" cy="213.80" r="0.5" fill="#d8e6fb"/><circle cx="665.80" cy="213.80" r="0.5" fill="#d8e6fb"/><circle cx="667.50" cy="213.80" r="0.5" fill="#d8e6fb"/><circle cx="662.40" cy="215.60" r="0.5" fill="#d8e6fb"/><circle cx="664.10" cy="215.60" r="0.5" fill="#d8e6fb"/><circle cx="665.80" cy="215.60" r="0.5" fill="#d8e6fb"/><circle cx="667.50" cy="215.60" r="0.5" fill="#d8e6fb"/><circle cx="662.40" cy="217.40" r="0.5" fill="#d8e6fb"/><circle cx="664.10" cy="217.40" r="0.5" fill="#d8e6fb"/><circle cx="665.80" cy="217.40" r="0.5" fill="#d8e6fb"/><circle cx="667.50" cy="217.40" r="0.5" fill="#d8e6fb"/>
</g>
</g>
<!-- separator -->
<rect x="0" y="228" width="800" height="2" fill="#c4c4c8"/>
<!-- rsi legend -->
<g font-size="9.5">
<text x="7.2" y="244.4" text-anchor="end" fill="#6a6d78">RSI 14 close</text>
<text x="7.2" y="244.4" fill="#6a6d78">)</text>
<text x="15.4" y="244.4" fill="#7e57c2" stroke="#7e57c2" stroke-width="0.15" textLength="23" lengthAdjust="spacingAndGlyphs">39.39</text>
<text x="44" y="244.4" fill="#f5cc38" stroke="#f5cc38" stroke-width="0.15" textLength="23" lengthAdjust="spacingAndGlyphs">30.52</text>
</g>
<rect x="0" y="252.5" width="800" height="55" fill="#efebf8"/>
<line x1="0" y1="252.5" x2="800" y2="252.5" stroke="#a6a5ae" stroke-width="1" stroke-dasharray="3 2.5"/>
<line x1="0" y1="280.5" x2="800" y2="280.5" stroke="#a6a5ae" stroke-width="1" stroke-dasharray="3 2.5"/>
<line x1="0" y1="307.5" x2="800" y2="307.5" stroke="#a6a5ae" stroke-width="1" stroke-dasharray="3 2.5"/>
<defs><clipPath id="ob"><rect x="0" y="220" width="800" height="32.5"/></clipPath><clipPath id="os"><rect x="0" y="307.5" width="800" height="30"/></clipPath><linearGradient id="gg" x1="0" y1="239" x2="0" y2="252.5" gradientUnits="userSpaceOnUse"><stop offset="0" stop-color="#c5e5c5"/><stop offset="1" stop-color="#eef6ee"/></linearGradient><linearGradient id="rg" x1="0" y1="307.5" x2="0" y2="324" gradientUnits="userSpaceOnUse"><stop offset="0" stop-color="#fdeef0"/><stop offset="1" stop-color="#f4a9b5"/></linearGradient></defs>
<polygon points="0,291.25 1.25,292.5 5,288.75 8,290 12,283 15,282 18.75,279.4 21.25,279.4 24.4,283 28,273 31.25,276 34.75,286.9 38,270.5 41.25,273.75 43.75,273.75 47.75,286.9 50.6,283.75 54.4,285 57.5,283 65,283 68,282 72,282 75,278 78,280 82,280 85,277.5 88,279 90.6,283.75 94.4,277.5 98,253.75 100,258.75 104.4,283.75 107.5,283 113.75,287.5 120.6,283.75 124.4,277.5 128,268 131.25,276.9 134.4,274.4 137.5,275 140.6,273 143.75,269.4 147.5,281.25 151.25,286.25 157.5,282.5 161.25,284.4 164.4,279.4 167.5,279.4 175,269.4 177.5,268.5 180.6,269.75 185,262.5 187.5,263.4 191.25,258.5 197.5,254.4 200,261.25 201.25,267.5 206.25,265 211.25,261.9 217.5,251.25 221.25,249 224.4,253 227.5,253.4 231.25,256.9 234.4,253 237.5,243 240.6,249.4 244.4,245.6 247.5,241.25 250.6,239.4 254.4,246.9 257.5,249.4 260.6,258 263.75,253 267.5,256.9 270.6,276.5 274.4,264.4 278,273 281.25,272.5 286.9,285.6 290.6,287.5 293.75,285.6 297.5,290 304.4,294.4 307.5,288 312.5,285.6 316.9,283 320.6,288 324.4,290.6 327.5,281.9 330.6,290 333.75,286.9 338.75,286.5 343.5,285.2 348,286.5 353.5,288.5 357,284.2 363.5,284.2 367,281.8 371,284.8 374,279 377.5,266.5 381,274.5 384.5,285.5 387.5,271 390.5,269.2 394.5,277.2 397.5,276 401,269.5 403.5,269.5 407.5,255 413.75,243.75 417.5,242.5 423.75,255.6 426.9,245.6 430.6,243.5 434.4,248 436.9,258.75 441.25,255.6 445,256.25 446.9,255.6 450.6,268.75 453.75,268 457.5,270.6 460,268.5 464.4,270.6 467.5,280 474.4,271.25 480.6,276.25 487.5,271.25 493,276.25 497.5,276.25 500.6,278.4 503.75,276.9 507.5,277.5 510.6,273.75 513.75,293.5 516.9,302.5 520.6,300.6 524.4,295.6 530,296.25 533.75,300.3 536.9,302.5 540,311.25 543.75,310 547.5,313.75 553.75,323.75 557.5,310 562.5,311.9 564.4,307.5 567.5,294.4 570.6,293.75 573.75,299.4 576.9,295.25 580.6,295.6 583.75,294.4 583.75,252.5 0,252.5" fill="url(#gg)" clip-path="url(#ob)"/>
<polygon points="0,291.25 1.25,292.5 5,288.75 8,290 12,283 15,282 18.75,279.4 21.25,279.4 24.4,283 28,273 31.25,276 34.75,286.9 38,270.5 41.25,273.75 43.75,273.75 47.75,286.9 50.6,283.75 54.4,285 57.5,283 65,283 68,282 72,282 75,278 78,280 82,280 85,277.5 88,279 90.6,283.75 94.4,277.5 98,253.75 100,258.75 104.4,283.75 107.5,283 113.75,287.5 120.6,283.75 124.4,277.5 128,268 131.25,276.9 134.4,274.4 137.5,275 140.6,273 143.75,269.4 147.5,281.25 151.25,286.25 157.5,282.5 161.25,284.4 164.4,279.4 167.5,279.4 175,269.4 177.5,268.5 180.6,269.75 185,262.5 187.5,263.4 191.25,258.5 197.5,254.4 200,261.25 201.25,267.5 206.25,265 211.25,261.9 217.5,251.25 221.25,249 224.4,253 227.5,253.4 231.25,256.9 234.4,253 237.5,243 240.6,249.4 244.4,245.6 247.5,241.25 250.6,239.4 254.4,246.9 257.5,249.4 260.6,258 263.75,253 267.5,256.9 270.6,276.5 274.4,264.4 278,273 281.25,272.5 286.9,285.6 290.6,287.5 293.75,285.6 297.5,290 304.4,294.4 307.5,288 312.5,285.6 316.9,283 320.6,288 324.4,290.6 327.5,281.9 330.6,290 333.75,286.9 338.75,286.5 343.5,285.2 348,286.5 353.5,288.5 357,284.2 363.5,284.2 367,281.8 371,284.8 374,279 377.5,266.5 381,274.5 384.5,285.5 387.5,271 390.5,269.2 394.5,277.2 397.5,276 401,269.5 403.5,269.5 407.5,255 413.75,243.75 417.5,242.5 423.75,255.6 426.9,245.6 430.6,243.5 434.4,248 436.9,258.75 441.25,255.6 445,256.25 446.9,255.6 450.6,268.75 453.75,268 457.5,270.6 460,268.5 464.4,270.6 467.5,280 474.4,271.25 480.6,276.25 487.5,271.25 493,276.25 497.5,276.25 500.6,278.4 503.75,276.9 507.5,277.5 510.6,273.75 513.75,293.5 516.9,302.5 520.6,300.6 524.4,295.6 530,296.25 533.75,300.3 536.9,302.5 540,311.25 543.75,310 547.5,313.75 553.75,323.75 557.5,310 562.5,311.9 564.4,307.5 567.5,294.4 570.6,293.75 573.75,299.4 576.9,295.25 580.6,295.6 583.75,294.4 583.75,307.5 0,307.5" fill="url(#rg)" clip-path="url(#os)"/>
<polyline points="0,278.9 6.25,282 12.5,285 18.75,285.6 25,285.6 31.25,284.4 37.5,282.5 43.75,281 50,280.25 56.25,280 62.5,280.3 68.75,280.6 75,280.6 81.25,281 87.5,281.5 93.75,281.2 100,277.5 112.5,277.5 122.5,278.75 131.25,277.5 140,276.25 148.75,279.4 156.25,279.75 167.5,278 175,277.5 187.5,275 200,270 212.5,265 225,259.4 237.5,256.25 243.75,255 250,251.9 256.25,249.75 262.5,249.4 268.75,250.25 275,252.5 281.25,255 287.5,260 293.75,265.5 301.25,273.75 310,280 317.5,283.75 326.25,286.9 338.75,287.75 350,286.5 360,286.5 374,285.2 380,282.5 385,282.2 392,280 402,277.5 410,273 420,264.4 425,262.5 432.5,257.5 438.75,254.4 447.5,252.5 452.5,252.75 460,256.25 467.5,261.25 473.75,264.4 480.6,268 486.9,270 493.75,273 501.25,274.4 510,275 515,276.9 520,280 527.5,283 535,287.5 542.5,293.75 548.75,298 553.75,303 560,306.9 566.25,307.25 575,307.25 583.75,306.25" fill="none" stroke="#f8d24e" stroke-width="1.1" stroke-linejoin="round"/>
<polyline points="0,291.25 1.25,292.5 5,288.75 8,290 12,283 15,282 18.75,279.4 21.25,279.4 24.4,283 28,273 31.25,276 34.75,286.9 38,270.5 41.25,273.75 43.75,273.75 47.75,286.9 50.6,283.75 54.4,285 57.5,283 65,283 68,282 72,282 75,278 78,280 82,280 85,277.5 88,279 90.6,283.75 94.4,277.5 98,253.75 100,258.75 104.4,283.75 107.5,283 113.75,287.5 120.6,283.75 124.4,277.5 128,268 131.25,276.9 134.4,274.4 137.5,275 140.6,273 143.75,269.4 147.5,281.25 151.25,286.25 157.5,282.5 161.25,284.4 164.4,279.4 167.5,279.4 175,269.4 177.5,268.5 180.6,269.75 185,262.5 187.5,263.4 191.25,258.5 197.5,254.4 200,261.25 201.25,267.5 206.25,265 211.25,261.9 217.5,251.25 221.25,249 224.4,253 227.5,253.4 231.25,256.9 234.4,253 237.5,243 240.6,249.4 244.4,245.6 247.5,241.25 250.6,239.4 254.4,246.9 257.5,249.4 260.6,258 263.75,253 267.5,256.9 270.6,276.5 274.4,264.4 278,273 281.25,272.5 286.9,285.6 290.6,287.5 293.75,285.6 297.5,290 304.4,294.4 307.5,288 312.5,285.6 316.9,283 320.6,288 324.4,290.6 327.5,281.9 330.6,290 333.75,286.9 338.75,286.5 343.5,285.2 348,286.5 353.5,288.5 357,284.2 363.5,284.2 367,281.8 371,284.8 374,279 377.5,266.5 381,274.5 384.5,285.5 387.5,271 390.5,269.2 394.5,277.2 397.5,276 401,269.5 403.5,269.5 407.5,255 413.75,243.75 417.5,242.5 423.75,255.6 426.9,245.6 430.6,243.5 434.4,248 436.9,258.75 441.25,255.6 445,256.25 446.9,255.6 450.6,268.75 453.75,268 457.5,270.6 460,268.5 464.4,270.6 467.5,280 474.4,271.25 480.6,276.25 487.5,271.25 493,276.25 497.5,276.25 500.6,278.4 503.75,276.9 507.5,277.5 510.6,273.75 513.75,293.5 516.9,302.5 520.6,300.6 524.4,295.6 530,296.25 533.75,300.3 536.9,302.5 540,311.25 543.75,310 547.5,313.75 553.75,323.75 557.5,310 562.5,311.9 564.4,307.5 567.5,294.4 570.6,293.75 573.75,299.4 576.9,295.25 580.6,295.6 583.75,294.4" fill="none" stroke="#7e57c2" stroke-width="1.0" stroke-linejoin="round"/>
<rect x="0" y="333" width="800" height="1" fill="#b8b8bc"/>
<g font-size="9.2" fill="#888b94">
<text x="-2.4" y="346" text-anchor="middle">24</text>
<text x="37.6" y="346" text-anchor="middle">26</text>
<text x="77.6" y="346" text-anchor="middle">28</text>
<text x="117.6" y="346" text-anchor="middle">30</text>
<text x="157.6" y="346" text-anchor="middle" font-weight="bold">2026</text>
<text x="197.6" y="346" text-anchor="middle">3</text>
<text x="237.6" y="346" text-anchor="middle">5</text>
<text x="277.6" y="346" text-anchor="middle">7</text>
<text x="317.6" y="346" text-anchor="middle">9</text>
<text x="357.6" y="346" text-anchor="middle">11</text>
<text x="397.6" y="346" text-anchor="middle">13</text>
<text x="437.6" y="346" text-anchor="middle">15</text>
<text x="477.6" y="346" text-anchor="middle">17</text>
<text x="517.6" y="346" text-anchor="middle">19</text>
<text x="557.6" y="346" text-anchor="middle">21</text>
<text x="597.6" y="346" text-anchor="middle">23</text>
<text x="637.6" y="346" text-anchor="middle">25</text>
<text x="677.6" y="346" text-anchor="middle">27</text>
<text x="717.6" y="346" text-anchor="middle">29</text>
<text x="777.6" y="346" text-anchor="middle">Feb</text>
</g>
<!-- footer -->
<rect x="0" y="353" width="800" height="47" fill="#202020"/>
<rect x="0" y="352" width="800" height="1" fill="#d0d0d0"/>
<rect x="0" y="353" width="800" height="1" fill="#6a6a6a"/>
<rect x="0" y="354" width="800" height="1" fill="#1a1a1a"/>
<text x="0" y="382" font-size="14.5" font-weight="bold" fill="#e8e8e8" textLength="67.5" lengthAdjust="spacingAndGlyphs">dingView</text>
</svg>
</body></html>
